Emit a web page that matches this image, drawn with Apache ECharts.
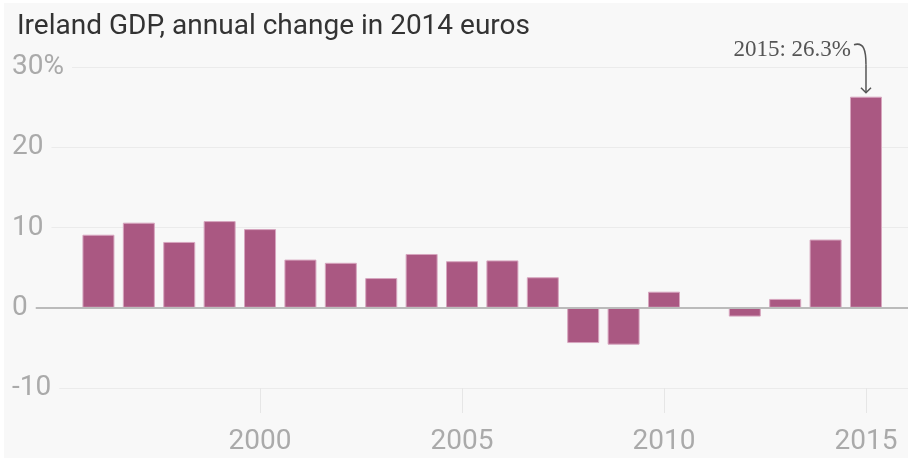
<!DOCTYPE html>
<html>
<head>
<meta charset="utf-8">
<script src="https://cdn.jsdelivr.net/npm/echarts@6/dist/echarts.min.js"></script>
<style>
  body { margin: 0; background: #ffffff; }
  #chart { position: absolute; left: 4px; top: 3px; width: 904px; height: 455px; background: #f8f8f8; }
</style>
</head>
<body>
<div id="chart"></div>
<script>
// Ireland GDP, annual % change
const years = [1996, 1997, 1998, 1999, 2000, 2001, 2002, 2003, 2004, 2005,
  2006, 2007, 2008, 2009, 2010, 2011, 2012, 2013, 2014, 2015]
const growth = [9.1, 10.6, 8.2, 10.8, 9.8, 6.0, 5.6, 3.7, 6.7, 5.8,
  5.9, 3.8, -4.4, -4.6, 2.0, 0.0, -1.1, 1.1, 8.5, 26.3]
const yearTicks = [2000, 2005, 2010, 2015]
const yTicks = [-10, 0, 10, 20, 30]
const note = { year: 2015, value: 26.3, text: '2015: 26.3%' }

const barColor = '#aa5882'
const labelFont = 'Roboto, "Open Sans", sans-serif'

let chart = echarts.init(document.getElementById('chart'))

let yBase = {
  type: 'value',
  min: yTicks[0],
  max: yTicks[yTicks.length - 1],
  interval: 10,
  axisLine: { show: false },
  axisTick: { show: false }
}

let option = {
  animation: false,
  title: {
    text: 'Ireland GDP, annual change in 2014 euros',
    left: 8,
    top: 5,
    textStyle: { fontFamily: labelFont, fontSize: 28, fontWeight: 'normal', color: '#333' }
  },
  grid: { left: 8, right: 0, top: 64, bottom: 70 },
  xAxis: {
    type: 'value',
    min: 1993.86,
    max: 2016.04,
    axisLine: { show: false, onZero: false },
    splitLine: { show: false },
    axisTick: {
      customValues: yearTicks,
      length: 25,
      lineStyle: { color: '#e6e6e6' }
    },
    axisLabel: {
      customValues: yearTicks,
      margin: 40,
      fontFamily: labelFont,
      fontSize: 28,
      color: '#aaa',
      formatter: function (v) { return String(v) }
    }
  },
  yAxis: [
    Object.assign({}, yBase, {
      z: 0,
      axisLabel: { show: false },
      splitLine: { lineStyle: { color: '#ebebeb' } }
    }),
    Object.assign({}, yBase, {
      z: 10,
      position: 'left',
      splitLine: { show: false },
      axisLabel: {
        inside: true,
        margin: 0,
        align: 'left',
        fontFamily: labelFont,
        fontSize: 28,
        color: '#aaa',
        backgroundColor: '#f8f8f8',
        padding: [0, 8, 0, 0],
        formatter: function (v) { return v === 30 ? v + '%' : String(v) }
      }
    })
  ],
  series: [{
    type: 'bar',
    barWidth: 32,
    data: years.map(function (y, i) { return [y, growth[i]] }),
    itemStyle: { color: barColor, borderColor: '#d7a6bf', borderWidth: 1 },
    markLine: {
      silent: true,
      symbol: 'none',
      label: { show: false },
      lineStyle: { color: '#bbb', width: 2, type: 'solid' },
      data: [{ yAxis: 0 }]
    }
  }]
}
chart.setOption(option)

// annotation with a curved arrow pointing at the 2015 bar
let p = chart.convertToPixel({ gridIndex: 0 }, [note.year, note.value])
let x = p[0], y = p[1]
let arrowStyle = { fill: 'none', stroke: '#555', lineWidth: 1.5 }
chart.setOption({
  graphic: [
    {
      type: 'text',
      x: x - 15,
      y: y - 47,
      style: {
        text: note.text,
        align: 'right',
        verticalAlign: 'middle',
        fontFamily: '"Liberation Serif", "DejaVu Serif", serif',
        fontSize: 23,
        fill: '#555'
      }
    },
    {
      type: 'bezierCurve',
      shape: { x1: x - 12, y1: y - 52, cpx1: x - 2, cpy1: y - 55, cpx2: x, cpy2: y - 46, x2: x, y2: y - 32 },
      style: arrowStyle
    },
    {
      type: 'polyline',
      shape: { points: [[x, y - 32], [x, y - 4]] },
      style: arrowStyle
    },
    {
      type: 'polyline',
      shape: { points: [[x - 5, y - 9], [x, y - 4], [x + 5, y - 9]] },
      style: arrowStyle
    }
  ]
})
</script>
</body>
</html>
